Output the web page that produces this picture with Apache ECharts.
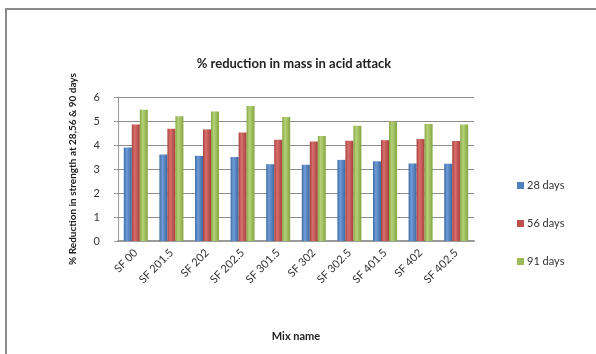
<!DOCTYPE html>
<html>
<head>
<meta charset="utf-8">
<script src="https://cdn.jsdelivr.net/npm/echarts@6/dist/echarts.min.js"></script>
<style>
  html, body { margin: 0; padding: 0; background: #ffffff; }
  #chart { width: 596px; height: 354px; }
</style>
</head>
<body>
<div id="chart"></div>
<script>
// Mix designations along the horizontal axis
const mixNames = ['SF 00', 'SF 201.5', 'SF 202', 'SF 202.5', 'SF 301.5', 'SF 302', 'SF 302.5', 'SF 401.5', 'SF 402', 'SF 402.5'];

// % reduction in mass after acid exposure, by curing age
const days28 = [3.9, 3.6, 3.55, 3.5, 3.2, 3.18, 3.38, 3.32, 3.23, 3.22];
const days56 = [4.85, 4.68, 4.65, 4.52, 4.22, 4.15, 4.18, 4.2, 4.25, 4.17];
const days91 = [5.47, 5.2, 5.4, 5.62, 5.17, 4.37, 4.8, 4.98, 4.88, 4.85];

const seriesNames = ['28 days', '56 days', '91 days'];
const yTicks = { min: 0, max: 6, interval: 1 };

const FONT = 'Lato, "Liberation Sans", sans-serif';

// Horizontal shading so the columns read as rounded solids
function shade(dark, light) {
  return new echarts.graphic.LinearGradient(0, 0, 1, 0, [
    { offset: 0, color: dark },
    { offset: 0.35, color: light },
    { offset: 1, color: dark }
  ]);
}

const palette = [
  shade('#3c6aa3', '#6f9bd6'),
  shade('#a8403d', '#d7706d'),
  shade('#86a640', '#b5d27a')
];
const legendColors = ['#4f81bd', '#c0504d', '#9bbb59'];

const values = [days28, days56, days91];

const chart = echarts.init(document.getElementById('chart'), null, { renderer: 'canvas' });

chart.setOption({
  animation: false,
  backgroundColor: '#ffffff',
  title: {
    text: '% reduction in mass in acid attack',
    left: 289,
    top: 52,
    textAlign: 'center',
    textStyle: { fontFamily: FONT, fontSize: 13, fontWeight: 'bold', color: '#222' }
  },
  legend: {
    orient: 'vertical',
    left: 512,
    top: 175,
    itemGap: 27,
    itemWidth: 7,
    itemHeight: 7,
    icon: 'rect',
    data: seriesNames.map((n, i) => ({ name: n, itemStyle: { color: legendColors[i] } })),
    textStyle: { fontFamily: FONT, fontSize: 11, color: '#333', padding: [0, 0, 0, -2] }
  },
  grid: { left: 118, top: 97, width: 356, height: 144, containLabel: false },
  xAxis: {
    type: 'category',
    data: mixNames,
    name: 'Mix name',
    nameLocation: 'middle',
    nameGap: 90,
    nameTextStyle: { fontFamily: FONT, fontSize: 11, fontWeight: 'bold', color: '#222' },
    axisLine: { lineStyle: { color: '#9a9a9a', width: 2 } },
    axisTick: { show: false },
    axisLabel: {
      rotate: 45,
      interval: 0,
      margin: 10,
      fontFamily: FONT,
      fontSize: 11,
      color: '#333'
    }
  },
  yAxis: {
    type: 'value',
    min: yTicks.min,
    max: yTicks.max,
    interval: yTicks.interval,
    name: '% Reduction in strength at 28,56 & 90 days',
    nameLocation: 'middle',
    nameGap: 40,
    nameTextStyle: { fontFamily: FONT, fontSize: 10, fontWeight: 'bold', color: '#222' },
    axisLine: { show: true, lineStyle: { color: '#9a9a9a' } },
    axisTick: { show: true, length: 4, lineStyle: { color: '#9a9a9a' } },
    axisLabel: { fontFamily: FONT, fontSize: 11, color: '#333', margin: 18 },
    splitLine: { lineStyle: { color: '#8c8c8c', width: 1 } }
  },
  series: seriesNames.map((name, i) => ({
    name: name,
    type: 'bar',
    data: values[i],
    barWidth: 8,
    barGap: '0%',
    itemStyle: { color: palette[i] }
  })),
  graphic: [{
    type: 'rect',
    silent: true,
    shape: { x: 6, y: 9, width: 600, height: 360 },
    style: { fill: 'none', stroke: '#8a8a8a', lineWidth: 2 }
  }]
});
</script>
</body>
</html>
